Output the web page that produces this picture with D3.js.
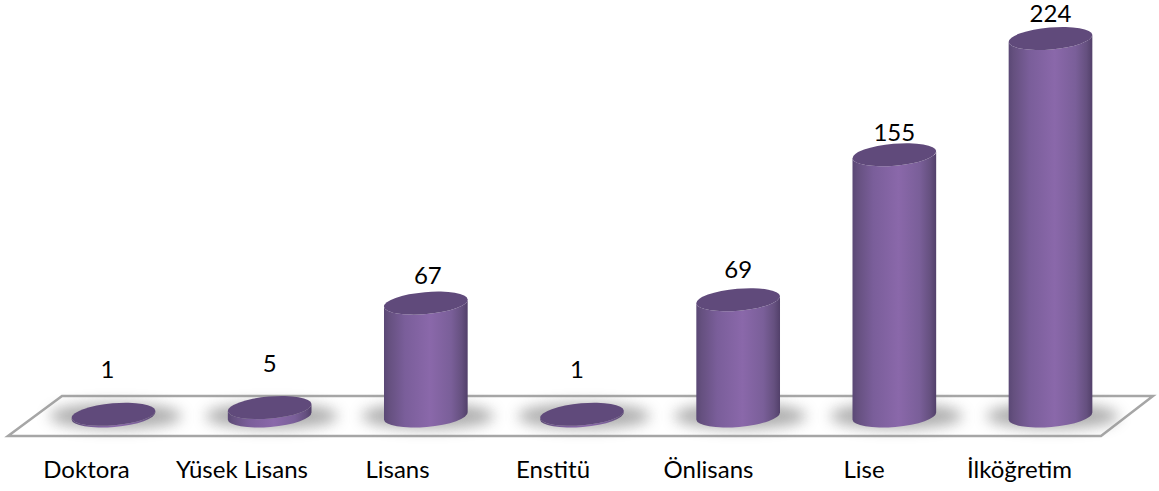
<!DOCTYPE html>
<html><head><meta charset="utf-8">
<style>html,body{margin:0;padding:0;background:#fff}svg{display:block}text{font-family:Lato,"Open Sans",sans-serif;fill:#000}</style>
<script src="https://cdn.jsdelivr.net/npm/d3@7"></script>
</head><body><svg id="c" width="1159" height="491"></svg>
<script>
const categories = ["Doktora","Yüsek Lisans","Lisans","Enstitü","Önlisans","Lise","İlköğretim"];
const values = [1,5,67,1,69,155,224];

const W=1159,H=491, RX=42, RY=11, ROT=-5;
const svg=d3.select("#c");
const x=d3.scalePoint().domain(categories).range([113.5,1050.5]);
const xLabel=d3.scalePoint().domain(categories).range([86,1019]);
const y=d3.scaleLinear().domain([0,224]).range([416,38.5]);
const labelNudge={"Doktora":[-6,-46],"Yüsek Lisans":[0,-45],"Lisans":[2,-29],"Enstitü":[-5,-46],"Önlisans":[0,-31],"Lise":[0,-23],"İlköğretim":[0,-26]};

const defs=svg.append("defs");
const g=defs.append("linearGradient").attr("id","body").attr("x1",0).attr("x2",1).attr("y1",0).attr("y2",0);
[[0,"#5a4875"],[0.06,"#65507f"],[0.25,"#7a5e9a"],[0.55,"#8a68aa"],[0.8,"#7a5f99"],[0.93,"#65507f"],[1,"#52406a"]]
 .forEach(s=>g.append("stop").attr("offset",s[0]).attr("stop-color",s[1]));
defs.append("filter").attr("id","blur").attr("x","-30%").attr("y","-80%").attr("width","160%").attr("height","260%")
 .append("feGaussianBlur").attr("stdDeviation",7);

const floor=[[62,396],[1153,396],[1101,436],[8,436]];
svg.append("path").attr("d",d3.line()(floor)+"Z").attr("fill","#fff").attr("stroke","#a6a6a6").attr("stroke-width",2.5);

const c=Math.cos(ROT*Math.PI/180), s=Math.sin(ROT*Math.PI/180);
const bars=svg.selectAll("g.bar").data(categories.map((k,i)=>({k,v:values[i]}))).join("g").attr("class","bar");
bars.append("ellipse").attr("cx",d=>x(d.k)+2).attr("cy",y(0)).attr("rx",RX+24).attr("ry",RY+2)
 .attr("fill","#8c8c8c").attr("opacity",0.7).attr("filter","url(#blur)");
bars.append("path").attr("fill","url(#body)").attr("d",d=>{
  const cx=x(d.k), t=y(d.v), b=y(0), dx=RX*c, dy=RX*s;
  return `M${cx-dx},${t-dy}L${cx-dx},${b-dy}A${RX},${RY} ${ROT} 0 0 ${cx+dx},${b+dy}L${cx+dx},${t+dy}A${RX},${RY} ${ROT} 0 1 ${cx-dx},${t-dy}Z`;
});
bars.append("ellipse").attr("rx",RX).attr("ry",RY).attr("fill","#604a7b")
 .attr("transform",d=>`translate(${x(d.k)},${y(d.v)}) rotate(${ROT})`);
bars.append("text").attr("text-anchor","middle").attr("dominant-baseline","central").attr("font-size",24)
 .attr("x",d=>x(d.k)+labelNudge[d.k][0]).attr("y",d=>y(d.v)+labelNudge[d.k][1]).text(d=>d.v);

const axis=svg.append("g").attr("transform","translate(0,458)").call(d3.axisBottom(xLabel).tickSize(0));
axis.select(".domain").remove();
axis.selectAll("text").attr("font-size",24).attr("font-family",null).style("fill","#000");
axis.attr("font-family",null).attr("font-size",null);
</script></body></html>
